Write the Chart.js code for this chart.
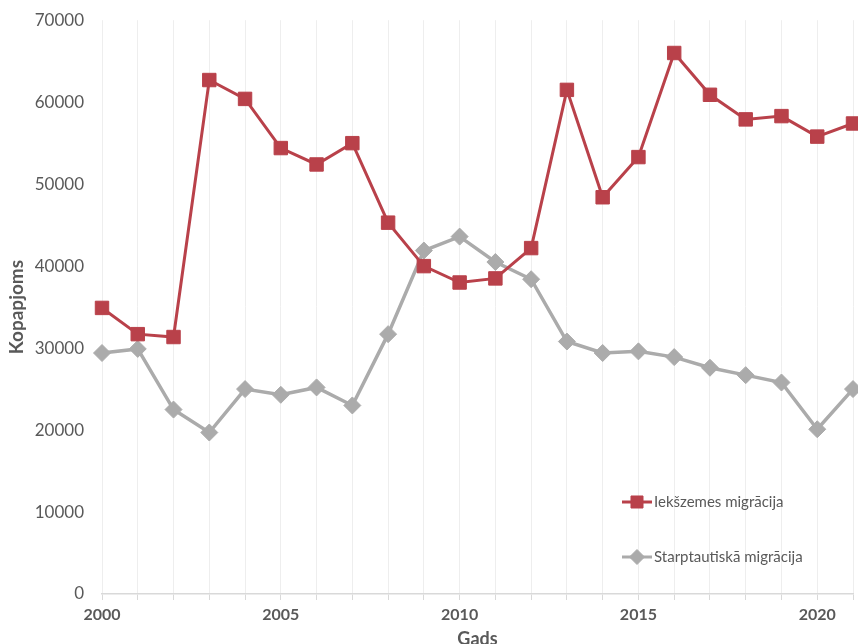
<!DOCTYPE html>
<html>
<head>
<meta charset="utf-8">
<style>
  html, body { margin: 0; padding: 0; background: #fff; overflow: hidden; }
  #chart { display: block; }
</style>
<script src="https://cdn.jsdelivr.net/npm/chart.js@4/dist/chart.umd.min.js"></script>
</head>
<body>
<canvas id="chart" width="858" height="650"></canvas>
<script>
// Dati
const gadi = [2000, 2001, 2002, 2003, 2004, 2005, 2006, 2007, 2008, 2009, 2010,
              2011, 2012, 2013, 2014, 2015, 2016, 2017, 2018, 2019, 2020, 2021];
const iekszemes = [34900, 31700, 31350, 62700, 60400, 54400, 52400, 55000, 45300, 40000, 38000,
                   38500, 42200, 61500, 48400, 53300, 66000, 60900, 57900, 58300, 55800, 57400];
const starptautiska = [29400, 29900, 22500, 19700, 25000, 24300, 25200, 23000, 31700, 41900, 43600,
                       40500, 38400, 30800, 29400, 29600, 28900, 27600, 26700, 25800, 20100, 25000];
const seriesNames = ['Iekšzemes migrācija', 'Starptautiskā migrācija'];
const yTicks = [0, 10000, 20000, 30000, 40000, 50000, 60000, 70000];

const RED = '#b9414a';
const GREY = '#ababab';
const FONT = 'Lato, "Open Sans", sans-serif';

// legenda iekš zīmējuma laukuma
const insideLegend = {
  id: 'insideLegend',
  afterDraw(chart) {
    const c = chart.ctx;
    const items = [
      { y: 502, ds: chart.data.datasets[0] },
      { y: 557, ds: chart.data.datasets[1] }
    ];
    c.save();
    items.forEach(it => {
      c.strokeStyle = it.ds.borderColor;
      c.fillStyle = it.ds.backgroundColor;
      c.lineWidth = 3;
      c.beginPath();
      c.moveTo(622, it.y);
      c.lineTo(652, it.y);
      c.stroke();
      c.lineWidth = 1;
      Chart.helpers.drawPoint(c, {
        pointStyle: it.ds.pointStyle,
        radius: it.ds.pointRadius - 1,
        borderWidth: 1
      }, 637, it.y);
      c.fillStyle = '#595959';
      c.font = '15px ' + FONT;
      c.textBaseline = 'middle';
      c.fillText(it.ds.label, 654, it.y);
    });
    c.restore();
  }
};

const toPoints = arr => arr.map((v, i) => ({ x: gadi[i], y: v }));

new Chart(document.getElementById('chart'), {
  type: 'line',
  data: {
    datasets: [
      {
        label: seriesNames[0],
        data: toPoints(iekszemes),
        borderColor: RED,
        backgroundColor: RED,
        borderWidth: 3,
        pointStyle: 'rect',
        pointRadius: 9.5,
        pointBorderWidth: 1,
        pointHoverRadius: 9.5
      },
      {
        label: seriesNames[1],
        data: toPoints(starptautiska),
        borderColor: GREY,
        backgroundColor: GREY,
        borderWidth: 3.5,
        pointStyle: 'rectRot',
        pointRadius: 8.5,
        pointBorderWidth: 1,
        pointHoverRadius: 8.5
      }
    ]
  },
  options: {
    responsive: false,
    animation: false,
    clip: false,
    layout: { autoPadding: false, padding: { top: 8, right: 5, left: 0, bottom: 0 } },
    plugins: {
      legend: { display: false },
      tooltip: { enabled: false }
    },
    scales: {
      x: {
        type: 'linear',
        min: 2000,
        max: 2021,
        afterFit: s => { s.height = 56; s.paddingRight = 0; },
        afterBuildTicks: s => { s.ticks = gadi.map(v => ({ value: v })); },
        ticks: {
          autoSkip: false,
          maxRotation: 0,
          padding: 5,
          color: '#595959',
          font: { family: FONT, size: 16, weight: 'bold' },
          callback: v => (v % 5 === 0 ? String(v) : '')
        },
        grid: {
          color: '#eeeeee',
          lineWidth: 1,
          drawTicks: true,
          tickLength: 6,
          tickColor: '#d9d9d9'
        },
        border: { display: true, color: '#d9d9d9', width: 1.5 },
        title: {
          display: true,
          text: 'Gads',
          color: '#595959',
          font: { family: FONT, size: 18, weight: 'bold' },
          padding: { top: 0, bottom: 0 }
        }
      },
      y: {
        min: 0,
        max: 70000,
        afterFit: s => { s.width = 102; },
        afterBuildTicks: s => { s.ticks = yTicks.map(v => ({ value: v })); },
        ticks: {
          padding: 10,
          color: '#595959',
          font: { family: FONT, size: 17 },
          callback: v => String(v)
        },
        grid: { display: false },
        border: { display: false },
        title: {
          display: true,
          text: 'Kopapjoms',
          color: '#595959',
          font: { family: FONT, size: 19, weight: 'bold' },
          padding: { top: 5, bottom: 0 }
        }
      }
    }
  },
  plugins: [insideLegend]
});
</script>
</body>
</html>
